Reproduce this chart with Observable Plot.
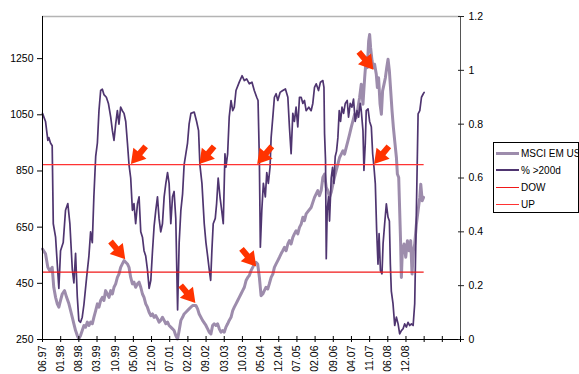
<!DOCTYPE html>
<html><head><meta charset="utf-8">
<script src="https://cdn.jsdelivr.net/npm/d3@7"></script>
<script src="https://cdn.jsdelivr.net/npm/@observablehq/plot@0.6"></script>
<style>
html,body{margin:0;padding:0;background:#fff;overflow:hidden;}
#wrap{position:relative;width:579px;height:374px;font-family:"Liberation Sans",Arial,sans-serif;}
#legend{position:absolute;left:493px;top:142px;width:84px;height:69px;border:1px solid #000;background:#fff;font-size:10px;color:#000;}
.item{position:absolute;left:2px;height:14px;display:flex;align-items:center;white-space:nowrap;}
.sw{width:23px;margin-right:2px;}
</style></head><body><div id="wrap"></div>
<script>
// ---------- DATA ----------
// x = trading-day index from June 1997; one axis tick every 150 trading days
const xTickLabels = ["06.97","01.98","08.98","03.99","10.99","05.00","12.00","07.01","02.02","09.02","03.03","10.03","05.04","12.04","07.05","02.06","09.06","04.07","11.07","06.08","12.08"];
const xTickCount = 24;      // ticks 0..23 (last three unlabeled)
const daysPerTick = 150;
const leftTicks = [250,450,650,850,1050,1250];
const rightTicks = [0,0.2,0.4,0.6,0.8,1,1.2];
const leftDomain = [250,1400];
const rightDomain = [0,1.2];

// MSCI EM USD (left axis)
const msci = [[0,572],[25,555],[44,507],[60,495],[80,507],[93,436],[108,400],[122,377],[135,365],[149,389],[163,412],[182,424],[199,400],[218,377],[232,353],[246,329],[259,306],[273,282],[287,264],[300,252],[314,264],[328,282],[342,300],[356,294],[370,312],[383,300],[397,312],[411,306],[424,329],[439,353],[453,377],[466,365],[480,389],[494,400],[507,389],[521,424],[535,412],[549,400],[563,424],[577,412],[590,436],[604,448],[618,471],[631,483],[645,507],[659,519],[673,531],[687,525],[701,519],[714,507],[728,471],[742,448],[755,454],[769,436],[784,448],[797,454],[811,436],[825,412],[838,400],[852,377],[866,365],[880,347],[894,335],[908,341],[921,329],[935,335],[949,324],[962,312],[976,318],[990,329],[1004,318],[1018,306],[1032,312],[1045,300],[1059,294],[1073,288],[1086,282],[1100,264],[1115,252],[1128,282],[1142,318],[1156,329],[1169,341],[1183,347],[1210,359],[1239,371],[1266,371],[1280,359],[1293,341],[1321,318],[1349,300],[1363,288],[1376,276],[1390,270],[1404,300],[1417,306],[1431,300],[1445,306],[1459,288],[1473,276],[1487,282],[1500,276],[1514,294],[1528,306],[1541,318],[1556,329],[1570,353],[1583,365],[1597,377],[1611,389],[1624,400],[1638,412],[1652,424],[1666,436],[1680,460],[1694,471],[1707,478],[1721,495],[1735,507],[1748,519],[1762,525],[1776,519],[1790,471],[1804,406],[1818,412],[1831,424],[1845,436],[1859,430],[1872,448],[1887,471],[1901,483],[1914,507],[1928,519],[1942,531],[1956,543],[1969,555],[1983,566],[1997,578],[2011,566],[2025,590],[2038,602],[2052,590],[2066,614],[2079,626],[2093,637],[2107,626],[2121,649],[2135,661],[2149,685],[2162,673],[2176,697],[2190,705],[2217,720],[2245,756],[2272,780],[2286,762],[2300,780],[2314,827],[2328,839],[2342,791],[2355,780],[2369,756],[2383,774],[2397,803],[2410,827],[2424,851],[2438,874],[2452,898],[2466,910],[2480,922],[2493,910],[2507,934],[2521,957],[2535,981],[2548,1005],[2562,1028],[2576,1052],[2590,1040],[2604,1076],[2617,1111],[2631,1159],[2645,1088],[2659,1182],[2672,1254],[2681,1218],[2692,1313],[2700,1336],[2708,1289],[2720,1242],[2730,1218],[2741,1230],[2755,1194],[2764,1147],[2774,1182],[2786,1088],[2797,1052],[2807,1135],[2819,1159],[2830,1182],[2841,1218],[2852,1248],[2863,1206],[2874,1135],[2885,1064],[2896,1005],[2907,957],[2921,898],[2929,839],[2940,827],[2948,709],[2956,590],[2962,471],[2970,566],[2984,590],[2998,543],[3012,602],[3026,566],[3039,602],[3050,483],[3061,566],[3072,590],[3086,661],[3100,709],[3114,756],[3122,803],[3134,744],[3145,756]];

// % of stocks above 200-day average (right axis)
const breadth = [[0,0.84],[25,0.81],[44,0.74],[52,0.75],[66,0.73],[80,0.72],[89,0.43],[108,0.38],[122,0.28],[135,0.19],[149,0.33],[171,0.36],[190,0.48],[209,0.505],[226,0.43],[246,0.26],[259,0.21],[273,0.32],[287,0.16],[300,0.07],[314,0.064],[328,0.083],[342,0.13],[364,0.23],[383,0.31],[397,0.40],[411,0.36],[424,0.53],[439,0.68],[453,0.73],[466,0.85],[480,0.925],[494,0.93],[507,0.91],[527,0.90],[544,0.877],[563,0.826],[577,0.776],[590,0.74],[604,0.80],[618,0.85],[631,0.80],[645,0.863],[659,0.85],[673,0.84],[687,0.81],[701,0.73],[714,0.65],[728,0.60],[742,0.48],[755,0.505],[769,0.43],[784,0.505],[797,0.53],[811,0.40],[825,0.38],[838,0.33],[852,0.31],[866,0.26],[880,0.19],[894,0.22],[908,0.33],[921,0.42],[935,0.48],[949,0.53],[962,0.45],[976,0.40],[990,0.43],[1004,0.53],[1018,0.58],[1032,0.62],[1045,0.58],[1059,0.43],[1073,0.53],[1086,0.55],[1100,0.45],[1115,0.11],[1128,0.36],[1142,0.48],[1156,0.54],[1169,0.65],[1183,0.69],[1197,0.73],[1210,0.80],[1225,0.84],[1252,0.845],[1272,0.81],[1288,0.776],[1299,0.65],[1316,0.58],[1335,0.43],[1349,0.36],[1363,0.31],[1376,0.26],[1388,0.22],[1398,0.33],[1409,0.43],[1426,0.45],[1437,0.505],[1450,0.60],[1465,0.53],[1479,0.48],[1492,0.43],[1506,0.69],[1514,0.64],[1528,0.69],[1541,0.826],[1556,0.888],[1570,0.85],[1583,0.863],[1597,0.925],[1624,0.956],[1647,0.98],[1666,0.962],[1685,0.968],[1707,0.95],[1729,0.956],[1748,0.925],[1768,0.90],[1779,0.888],[1790,0.665],[1798,0.343],[1810,0.48],[1823,0.58],[1839,0.53],[1851,0.62],[1864,0.58],[1878,0.64],[1887,0.75],[1901,0.826],[1914,0.90],[1928,0.913],[1942,0.888],[1961,0.918],[1983,0.925],[2005,0.931],[2025,0.90],[2038,0.79],[2052,0.69],[2066,0.84],[2079,0.81],[2093,0.863],[2107,0.79],[2121,0.90],[2135,0.90],[2149,0.877],[2162,0.888],[2176,0.85],[2198,0.863],[2217,0.85],[2231,0.877],[2245,0.937],[2259,0.95],[2278,0.925],[2294,0.956],[2314,0.962],[2323,0.937],[2328,0.764],[2336,0.665],[2342,0.30],[2350,0.48],[2361,0.53],[2369,0.44],[2383,0.60],[2394,0.64],[2405,0.58],[2416,0.68],[2427,0.70],[2438,0.75],[2449,0.85],[2460,0.81],[2472,0.863],[2485,0.84],[2499,0.877],[2515,0.888],[2526,0.826],[2540,0.877],[2554,0.863],[2567,0.893],[2581,0.81],[2596,0.85],[2609,0.826],[2623,0.877],[2631,0.85],[2645,0.776],[2653,0.628],[2664,0.727],[2672,0.85],[2687,0.857],[2700,0.81],[2714,0.79],[2725,0.69],[2736,0.64],[2747,0.578],[2758,0.405],[2769,0.28],[2778,0.393],[2789,0.256],[2802,0.244],[2811,0.356],[2824,0.43],[2838,0.504],[2852,0.454],[2863,0.44],[2871,0.28],[2879,0.18],[2893,0.133],[2907,0.052],[2921,0.083],[2935,0.058],[2948,0.021],[2962,0.033],[2976,0.04],[2989,0.058],[3003,0.046],[3017,0.064],[3031,0.052],[3045,0.058],[3059,0.052],[3072,0.133],[3086,0.48],[3100,0.838],[3114,0.85],[3128,0.90],[3142,0.912],[3150,0.918]];

// threshold levels (right axis)
const levels = [{name:"DOW", value:0.25}, {name:"UP", value:0.65}];

// arrow annotations: tip location in data units
const arrows = [
  {day:734, axis:"right", value:0.65, dir:"dl"},
  {day:687, axis:"left", value:534, dir:"dr"},
  {day:1299, axis:"right", value:0.65, dir:"dl"},
  {day:1266, axis:"left", value:378, dir:"dr"},
  {day:1776, axis:"right", value:0.65, dir:"dl"},
  {day:1768, axis:"left", value:508, dir:"dr"},
  {day:2736, axis:"left", value:1209, dir:"dr"},
  {day:2741, axis:"right", value:0.65, dir:"dl"}
];

const seriesNames = ["MSCI EM US", "% >200d", "DOW", "UP"];
const colors = {msci:"#9d8cac", breadth:"#4f3570", dow:"#f01818", up:"#ff3333", arrow:"#ff3300"};

// ---------- CHART ----------
const toLeft = d3.scaleLinear().domain(rightDomain).range(leftDomain);
const xMax = (xTickCount - 1) * daysPerTick;
const xTicks = d3.range(xTickCount).map(i => i * daysPerTick);
const lastDay = breadth[breadth.length - 1][0];
const FONT = "'Liberation Sans', Arial, sans-serif";

function arrowMark(index, scales) {
  const ns = "http://www.w3.org/2000/svg";
  const g = document.createElementNS(ns, "g");
  const L = 23, HL = 14, HW = 8.5, SW = 3;
  for (const a of arrows) {
    const tx = scales.x(a.day);
    const ty = scales.y(a.axis === "right" ? toLeft(a.value) : a.value);
    const ux = a.dir === "dl" ? -0.64 : 0.64, uy = 0.77;
    const nx = -uy, ny = ux;
    const bx = tx - ux*HL, by = ty - uy*HL;
    const ex = tx - ux*L, ey = ty - uy*L;
    const pts = [
      [tx, ty],
      [bx + nx*HW, by + ny*HW],
      [bx + nx*SW, by + ny*SW],
      [ex + nx*SW, ey + ny*SW],
      [ex - nx*SW, ey - ny*SW],
      [bx - nx*SW, by - ny*SW],
      [bx - nx*HW, by - ny*HW]
    ];
    const p = document.createElementNS(ns, "polygon");
    p.setAttribute("points", pts.map(q => q.join(",")).join(" "));
    p.setAttribute("fill", colors.arrow);
    g.appendChild(p);
  }
  return g;
}

const chart = Plot.plot({
  width: 579, height: 374,
  marginLeft: 42, marginRight: 119, marginTop: 16, marginBottom: 35,
  style: {fontFamily: FONT, fontSize: "10.5px", color: "#000", background: "#fff", overflow: "visible"},
  x: {domain: [0, xMax], axis: null, label: null},
  y: {domain: leftDomain, axis: null, label: null},
  marks: [
    Plot.ruleY([leftDomain[1]], {stroke: "#b4b4b4", strokeWidth: 1.5}),
    Plot.line(msci, {x: d => d[0], y: d => d[1], stroke: colors.msci, strokeWidth: 3, strokeLinejoin: "round"}),
    Plot.line(breadth, {x: d => d[0], y: d => toLeft(d[1]), stroke: colors.breadth, strokeWidth: 1.7, strokeLinejoin: "round"}),
    Plot.ruleY(levels, {y: d => toLeft(d.value), x1: 0, x2: lastDay, stroke: (d, i) => i === 0 ? colors.dow : colors.up, strokeWidth: 1.2}),
    arrowMark,
    // axes lines
    Plot.ruleX([0], {stroke: "#000"}),
    Plot.ruleX([xMax], {stroke: "#555"}),
    Plot.ruleY([leftDomain[0]], {stroke: "#000"}),
    // left axis
    Plot.axisY(leftTicks, {anchor: "left", tickSize: 5, tickPadding: 4, label: null, fontSize: 10.5, tickFormat: d => String(d)}),
    // right axis (crossing ticks + labels)
    Plot.axisY(rightTicks.map(toLeft), {anchor: "right", tickSize: 6, dx: -3, fill: "none", label: null, stroke: "#222"}),
    Plot.axisY(rightTicks.map(toLeft), {anchor: "right", tickSize: 0, tickPadding: 8, label: null, fontSize: 10.5,
      tickFormat: d => String(+toLeft.invert(d).toFixed(1))}),
    // bottom axis
    Plot.axisX(xTicks, {anchor: "bottom", tickSize: 6, dy: -3, fill: "none", label: null, stroke: "#000"}),
    Plot.axisX(xTicks.slice(0, xTickLabels.length), {anchor: "bottom", tickSize: 0, tickPadding: 6, tickRotate: -90, label: null, fontSize: 10.5,
      tickFormat: d => xTickLabels[Math.round(d / daysPerTick)]})
  ]
});

const wrap = document.getElementById("wrap");
wrap.appendChild(chart);

// legend
const legend = document.createElement("div");
legend.id = "legend";
const swatches = [
  {color: colors.msci, w: 3}, {color: colors.breadth, w: 2}, {color: colors.dow, w: 1.2}, {color: colors.up, w: 1.2}
];
seriesNames.forEach((name, i) => {
  const it = document.createElement("div");
  it.className = "item";
  it.style.top = (3 + i * 17) + "px";
  const sw = document.createElement("span");
  sw.className = "sw";
  sw.style.borderTop = swatches[i].w + "px solid " + swatches[i].color;
  const tx = document.createElement("span");
  tx.textContent = name;
  it.appendChild(sw); it.appendChild(tx);
  legend.appendChild(it);
});
wrap.appendChild(legend);
</script></body></html>
